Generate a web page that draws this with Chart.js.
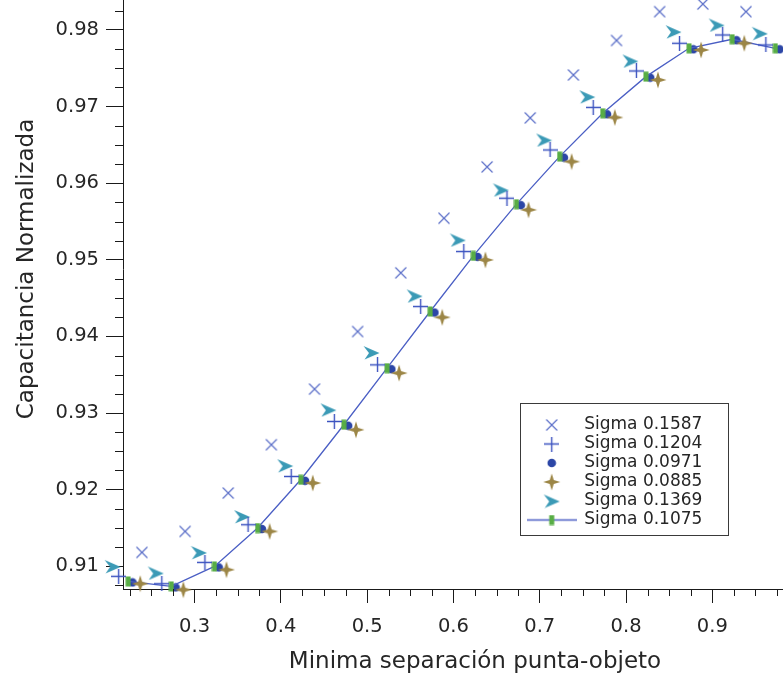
<!DOCTYPE html>
<html>
<head>
<meta charset="utf-8">
<script src="https://cdn.jsdelivr.net/npm/chart.js@4.4.1/dist/chart.umd.min.js"></script>
<style>
  html, body { margin: 0; padding: 0; background: #fff; overflow: hidden; }
  #wrap { position: absolute; left: 0; top: -51px; }
</style>
</head>
<body>
<div id="wrap"><canvas id="chart" width="830" height="732"></canvas></div>
<script>
// minimum tip-object separation (x) and normalized capacitance (y), one pair per sigma
const sep1587 = [0.239, 0.289, 0.339, 0.389, 0.439, 0.489, 0.539, 0.589, 0.639, 0.689, 0.739, 0.789, 0.839, 0.889, 0.939];
const cap1587 = [0.91181, 0.91455, 0.91956, 0.92586, 0.93312, 0.94064, 0.94830, 0.95543, 0.96213, 0.96852, 0.97413, 0.97863, 0.98239, 0.98339, 0.98239];

const sep1204 = [0.212, 0.262, 0.312, 0.362, 0.412, 0.462, 0.512, 0.562, 0.612, 0.662, 0.712, 0.762, 0.812, 0.862, 0.912, 0.962];
const cap1204 = [0.90868, 0.90772, 0.91050, 0.91542, 0.92172, 0.92890, 0.93629, 0.94390, 0.95108, 0.95804, 0.96434, 0.96989, 0.97465, 0.97826, 0.97935, 0.97804];

const sep0971 = [0.228, 0.278, 0.328, 0.378, 0.428, 0.478, 0.528, 0.578, 0.628, 0.678, 0.728, 0.778, 0.828, 0.878, 0.928, 0.978];
const cap0971 = [0.90789, 0.90724, 0.90985, 0.91486, 0.92116, 0.92834, 0.93573, 0.94312, 0.95038, 0.95713, 0.96334, 0.96900, 0.97378, 0.97748, 0.97866, 0.97748];

const sep0885 = [0.237, 0.287, 0.337, 0.387, 0.437, 0.487, 0.537, 0.587, 0.637, 0.687, 0.737, 0.787, 0.837, 0.887, 0.937];
const cap0885 = [0.90772, 0.90694, 0.90955, 0.91455, 0.92086, 0.92781, 0.93521, 0.94249, 0.94999, 0.95652, 0.96282, 0.96858, 0.97348, 0.97739, 0.97826];

const sep1369 = [0.205, 0.255, 0.305, 0.355, 0.405, 0.455, 0.505, 0.555, 0.605, 0.655, 0.705, 0.755, 0.805, 0.855, 0.905, 0.955];
const cap1369 = [0.90998, 0.90912, 0.91181, 0.91650, 0.92314, 0.93042, 0.93790, 0.94530, 0.95260, 0.95913, 0.96565, 0.97130, 0.97596, 0.97978, 0.98065, 0.97957];

const sep1075 = [0.223, 0.273, 0.323, 0.373, 0.423, 0.473, 0.523, 0.573, 0.623, 0.673, 0.723, 0.773, 0.823, 0.873, 0.923, 0.973];
const cap1075 = [0.90802, 0.90737, 0.90998, 0.91499, 0.92129, 0.92847, 0.93586, 0.94325, 0.95052, 0.95726, 0.96347, 0.96913, 0.97391, 0.97761, 0.97879, 0.97761];

const xTickStep = 0.1, yTickStep = 0.01;

const axisColor = '#1a1a1a';
const textColor = '#262626';
Chart.defaults.font.family = 'DejaVu Sans';
Chart.defaults.color = textColor;

const pts = (xs, ys) => xs.map((x, i) => ({ x, y: ys[i] }));

// small canvases used as point styles
function marker(w, h, draw) {
  const c = document.createElement('canvas');
  c.width = w; c.height = h;
  draw(c.getContext('2d'));
  return c;
}
const xMark = marker(14, 14, g => {
  g.strokeStyle = '#5a6ec8'; g.lineWidth = 1.15;
  g.beginPath();
  g.moveTo(1.5, 1.5); g.lineTo(12.5, 12.5);
  g.moveTo(12.5, 1.5); g.lineTo(1.5, 12.5);
  g.stroke();
});
const plusMark = marker(15, 15, g => {
  g.strokeStyle = '#3c53c0'; g.lineWidth = 1.4;
  g.beginPath();
  g.moveTo(0, 7.5); g.lineTo(15, 7.5);
  g.moveTo(7.5, 0); g.lineTo(7.5, 15);
  g.stroke();
});
const dotMark = marker(10, 10, g => {
  g.fillStyle = '#2c46a6';
  g.beginPath(); g.arc(5, 5, 4.3, 0, Math.PI * 2); g.fill();
});
const starMark = marker(18, 18, g => {
  g.fillStyle = '#9c8646';
  g.beginPath();
  g.moveTo(9, 0.5); g.lineTo(11, 7); g.lineTo(17.5, 9); g.lineTo(11, 11);
  g.lineTo(9, 17.5); g.lineTo(7, 11); g.lineTo(0.5, 9); g.lineTo(7, 7);
  g.closePath(); g.fill();
});
const chevronMark = marker(17, 15, g => {
  g.fillStyle = '#3b9ab6';
  g.beginPath();
  g.moveTo(16.5, 8); g.lineTo(0.5, 1); g.lineTo(6, 8); g.lineTo(1.5, 14.5);
  g.closePath(); g.fill();
});
const barMark = marker(6, 11, g => {
  g.fillStyle = '#58ad45';
  g.fillRect(0.5, 0.5, 5, 10);
});
const lineIcon = marker(50, 11, g => {
  g.strokeStyle = '#4a5ec4'; g.lineWidth = 1.3;
  g.beginPath(); g.moveTo(0, 5.5); g.lineTo(50, 5.5); g.stroke();
  g.fillStyle = '#58ad45';
  g.fillRect(22.5, 0.5, 5, 10);
});

// minor ticks between the labelled ones
const minorTicks = {
  id: 'minorTicks',
  afterDraw(chart) {
    const { ctx, chartArea: a, scales: { x, y } } = chart;
    ctx.save();
    ctx.strokeStyle = axisColor;
    ctx.lineWidth = 1;
    ctx.beginPath();
    const xs = xTickStep / 4, ys = yTickStep / 4;
    for (let k = Math.ceil(x.min / xs); k * xs <= x.max; k++) {
      if (k % 4 === 0) continue;
      const px = Math.round(x.getPixelForValue(k * xs)) + 0.5;
      ctx.moveTo(px, a.bottom); ctx.lineTo(px, a.bottom + 7);
    }
    for (let k = Math.ceil(y.min / ys); k * ys <= y.max; k++) {
      if (k % 4 === 0) continue;
      const py = Math.round(y.getPixelForValue(k * ys)) + 0.5;
      ctx.moveTo(a.left - 8, py); ctx.lineTo(a.left, py);
    }
    ctx.stroke();
    ctx.restore();
  }
};

// legend sits in a framed box inside the plot
const legendFrame = { x: 520.5, y: 454.5, w: 208, h: 132 };
const legendBox = {
  id: 'legendBox',
  afterUpdate(chart) {
    const lg = chart.legend;
    lg.left = legendFrame.x + 5.2;
    lg.top = legendFrame.y + 11;
    lg.right = lg.left + legendFrame.w;
    lg.bottom = lg.top + 200;
    lg.adjustHitBoxes();
  },
  afterDraw(chart) {
    const ctx = chart.ctx;
    ctx.save();
    ctx.strokeStyle = '#3a3a3a';
    ctx.lineWidth = 1;
    ctx.strokeRect(legendFrame.x, legendFrame.y, legendFrame.w, legendFrame.h);
    ctx.restore();
  }
};

const common = { showLine: false, clip: false, pointRadius: 12, pointHoverRadius: 12 };

new Chart(document.getElementById('chart'), {
  type: 'scatter',
  data: {
    datasets: [
      { ...common, label: 'Sigma 0.1587', data: pts(sep1587, cap1587), pointStyle: xMark, order: 0 },
      { ...common, label: 'Sigma 0.1204', data: pts(sep1204, cap1204), pointStyle: plusMark, order: 0 },
      { ...common, label: 'Sigma 0.0971', data: pts(sep0971, cap0971), pointStyle: dotMark, order: 3 },
      { ...common, label: 'Sigma 0.0885', data: pts(sep0885, cap0885), pointStyle: starMark, order: 1 },
      { ...common, label: 'Sigma 0.1369', data: pts(sep1369, cap1369), pointStyle: chevronMark, order: 0 },
      { ...common, label: 'Sigma 0.1075', data: pts(sep1075, cap1075), pointStyle: barMark, legendIcon: lineIcon,
        showLine: true, borderColor: '#4a5ec4', borderWidth: 1.3, order: 2 }
    ]
  },
  options: {
    responsive: false,
    animation: false,
    devicePixelRatio: 1,
    layout: { autoPadding: false, padding: { left: 0, top: 0, right: 3, bottom: 0 } },
    scales: {
      x: {
        type: 'linear',
        min: 0.21706,
        max: 1.03289,
        afterFit(s) { s.height = 92; s.paddingLeft = 0; s.paddingRight = 0; },
        border: { color: axisColor, width: 1 },
        grid: { drawOnChartArea: false, tickLength: 14, color: axisColor },
        ticks: {
          stepSize: xTickStep, includeBounds: false, maxRotation: 0, padding: 12,
          font: { size: 19.5 }, color: textColor,
          callback: v => v.toFixed(1)
        },
        title: {
          display: true, text: 'Minima separación punta-objeto',
          font: { size: 23 }, color: textColor, padding: { top: 0, bottom: 5 }
        }
      },
      y: {
        type: 'linear',
        min: 0.90703,
        max: 0.99057,
        afterFit(s) { s.width = 123; s.paddingTop = 0; s.paddingBottom = 0; },
        border: { color: axisColor, width: 1 },
        grid: { drawOnChartArea: false, tickLength: 17, color: axisColor },
        ticks: {
          stepSize: yTickStep, includeBounds: false, padding: 7,
          font: { size: 19.5 }, color: textColor,
          callback: v => v.toFixed(2)
        },
        title: {
          display: true, text: 'Capacitancia Normalizada',
          font: { size: 23 }, color: textColor, padding: { top: 13, bottom: 0 }
        }
      }
    },
    plugins: {
      tooltip: { enabled: false },
      legend: {
        position: 'chartArea',
        align: 'start',
        labels: {
          usePointStyle: true,
          pointStyleWidth: 48,
          padding: 2,
          color: textColor,
          font: { size: 17 },
          sort: (a, b) => a.datasetIndex - b.datasetIndex,
          generateLabels(chart) {
            const items = Chart.defaults.plugins.legend.labels.generateLabels(chart);
            items.forEach(it => {
              const ds = chart.data.datasets[it.datasetIndex];
              it.pointStyle = ds.legendIcon || ds.pointStyle;
            });
            return items;
          }
        }
      }
    }
  },
  plugins: [minorTicks, legendBox]
});
</script>
</body>
</html>
